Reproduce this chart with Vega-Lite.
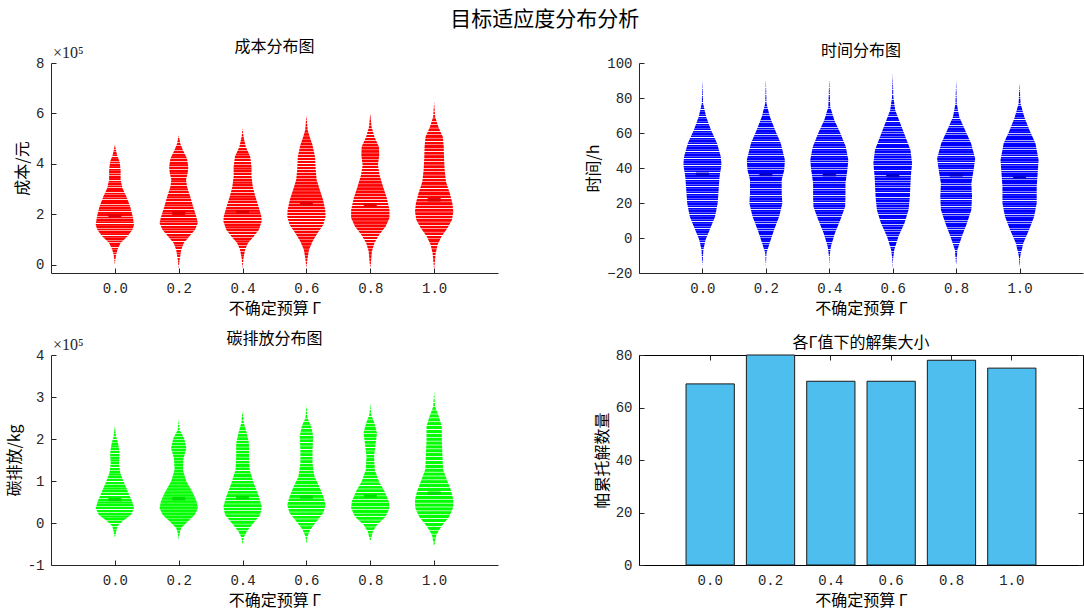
{
"$schema": "https://vega.github.io/schema/vega-lite/v6.json",
"background": "white",
"padding": {"left": 6, "top": 9, "right": 2, "bottom": 4},
"title": {"text": "目标适应度分布分析", "font": "Noto Sans CJK SC", "fontSize": 21, "fontWeight": "normal", "color": "#000000", "anchor": "middle", "offset": 9},
"config": {
  "font": "Noto Sans CJK SC",
  "view": {"stroke": null},
  "title": {"font": "Noto Sans CJK SC", "fontSize": 16, "fontWeight": "normal", "color": "#000000", "offset": -3},
  "axis": {"grid": false, "labelOverlap": false, "labelFont": "Liberation Mono", "labelFontSize": 14, "labelColor": "#262626", "titleFont": "Noto Sans CJK SC", "titleFontSize": 16, "titleFontWeight": "normal", "titleColor": "#000000", "domainColor": "#262626", "tickColor": "#262626", "tickSize": -5, "labelPadding": 12, "titlePadding": 5}
},
"datasets": {
  "cost": [
    {"g":0,"v":475000,"w":0},{"g":0,"v":435000,"w":0.007},{"g":0,"v":409000,"w":0.015},{"g":0,"v":376000,"w":0.018},{"g":0,"v":337000,"w":0.018},{"g":0,"v":304000,"w":0.024},{"g":0,"v":271000,"w":0.036},{"g":0,"v":231000,"w":0.048},{"g":0,"v":192000,"w":0.056},{"g":0,"v":159000,"w":0.060},{"g":0,"v":139000,"w":0.055},{"g":0,"v":113000,"w":0.039},{"g":0,"v":87000,"w":0.018},{"g":0,"v":60000,"w":0.008},{"g":0,"v":34000,"w":0.003},{"g":0,"v":1000,"w":0},
    {"g":0.2,"v":514000,"w":0},{"g":0.2,"v":481000,"w":0.005},{"g":0.2,"v":455000,"w":0.013},{"g":0.2,"v":422000,"w":0.026},{"g":0.2,"v":389000,"w":0.030},{"g":0.2,"v":363000,"w":0.028},{"g":0.2,"v":337000,"w":0.023},{"g":0.2,"v":310000,"w":0.026},{"g":0.2,"v":271000,"w":0.036},{"g":0.2,"v":231000,"w":0.045},{"g":0.2,"v":192000,"w":0.055},{"g":0.2,"v":166000,"w":0.060},{"g":0.2,"v":139000,"w":0.051},{"g":0.2,"v":113000,"w":0.033},{"g":0.2,"v":87000,"w":0.016},{"g":0.2,"v":60000,"w":0.008},{"g":0.2,"v":21000,"w":0.003},{"g":0.2,"v":-15000,"w":0},
    {"g":0.4,"v":541000,"w":0},{"g":0.4,"v":508000,"w":0.003},{"g":0.4,"v":468000,"w":0.010},{"g":0.4,"v":429000,"w":0.024},{"g":0.4,"v":389000,"w":0.028},{"g":0.4,"v":350000,"w":0.028},{"g":0.4,"v":310000,"w":0.032},{"g":0.4,"v":271000,"w":0.040},{"g":0.4,"v":231000,"w":0.050},{"g":0.4,"v":192000,"w":0.059},{"g":0.4,"v":172000,"w":0.060},{"g":0.4,"v":139000,"w":0.051},{"g":0.4,"v":113000,"w":0.035},{"g":0.4,"v":87000,"w":0.017},{"g":0.4,"v":60000,"w":0.008},{"g":0.4,"v":28000,"w":0.003},{"g":0.4,"v":-15000,"w":0},
    {"g":0.6,"v":593000,"w":0},{"g":0.6,"v":534000,"w":0.004},{"g":0.6,"v":508000,"w":0.010},{"g":0.6,"v":475000,"w":0.019},{"g":0.6,"v":429000,"w":0.027},{"g":0.6,"v":376000,"w":0.029},{"g":0.6,"v":337000,"w":0.032},{"g":0.6,"v":297000,"w":0.042},{"g":0.6,"v":258000,"w":0.052},{"g":0.6,"v":218000,"w":0.059},{"g":0.6,"v":192000,"w":0.060},{"g":0.6,"v":159000,"w":0.053},{"g":0.6,"v":126000,"w":0.035},{"g":0.6,"v":93000,"w":0.019},{"g":0.6,"v":60000,"w":0.008},{"g":0.6,"v":21000,"w":0.003},{"g":0.6,"v":-12000,"w":0},
    {"g":0.8,"v":600000,"w":0},{"g":0.8,"v":547000,"w":0.004},{"g":0.8,"v":508000,"w":0.013},{"g":0.8,"v":468000,"w":0.027},{"g":0.8,"v":435000,"w":0.028},{"g":0.8,"v":396000,"w":0.024},{"g":0.8,"v":356000,"w":0.029},{"g":0.8,"v":310000,"w":0.040},{"g":0.8,"v":264000,"w":0.052},{"g":0.8,"v":218000,"w":0.060},{"g":0.8,"v":186000,"w":0.060},{"g":0.8,"v":152000,"w":0.048},{"g":0.8,"v":120000,"w":0.028},{"g":0.8,"v":87000,"w":0.013},{"g":0.8,"v":54000,"w":0.005},{"g":0.8,"v":8000,"w":0.002},{"g":0.8,"v":-12000,"w":0},
    {"g":1,"v":646000,"w":0},{"g":1,"v":587000,"w":0.003},{"g":1,"v":547000,"w":0.013},{"g":1,"v":508000,"w":0.027},{"g":1,"v":468000,"w":0.030},{"g":1,"v":422000,"w":0.031},{"g":1,"v":376000,"w":0.033},{"g":1,"v":330000,"w":0.037},{"g":1,"v":284000,"w":0.049},{"g":1,"v":245000,"w":0.057},{"g":1,"v":212000,"w":0.060},{"g":1,"v":179000,"w":0.056},{"g":1,"v":146000,"w":0.042},{"g":1,"v":113000,"w":0.023},{"g":1,"v":80000,"w":0.011},{"g":1,"v":47000,"w":0.005},{"g":1,"v":-19000,"w":0}
  ],
  "costMean": [{"g":0,"m":195000},{"g":0.2,"m":205000},{"g":0.4,"m":210000},{"g":0.6,"m":242000},{"g":0.8,"m":238000},{"g":1,"m":258000}],
  "time": [
    {"g":0,"v":90.5,"w":0},{"g":0,"v":76.9,"w":0.002},{"g":0,"v":69.2,"w":0.012},{"g":0,"v":61.7,"w":0.027},{"g":0,"v":54.1,"w":0.046},{"g":0,"v":46.4,"w":0.058},{"g":0,"v":41.7,"w":0.060},{"g":0,"v":35.0,"w":0.054},{"g":0,"v":27.5,"w":0.051},{"g":0,"v":19.9,"w":0.048},{"g":0,"v":12.3,"w":0.040},{"g":0,"v":4.7,"w":0.023},{"g":0,"v":-1.0,"w":0.010},{"g":0,"v":-6.7,"w":0.003},{"g":0,"v":-16.2,"w":0},
    {"g":0.2,"v":91.1,"w":0},{"g":0.2,"v":76.9,"w":0.002},{"g":0.2,"v":69.2,"w":0.013},{"g":0.2,"v":61.7,"w":0.029},{"g":0.2,"v":54.1,"w":0.047},{"g":0.2,"v":44.6,"w":0.060},{"g":0.2,"v":38.9,"w":0.058},{"g":0.2,"v":33.3,"w":0.050},{"g":0.2,"v":25.6,"w":0.050},{"g":0.2,"v":19.9,"w":0.052},{"g":0.2,"v":12.3,"w":0.042},{"g":0.2,"v":4.7,"w":0.026},{"g":0.2,"v":-2.9,"w":0.012},{"g":0.2,"v":-8.6,"w":0.002},{"g":0.2,"v":-16.2,"w":0},
    {"g":0.4,"v":91.1,"w":0},{"g":0.4,"v":74.9,"w":0.003},{"g":0.4,"v":67.3,"w":0.016},{"g":0.4,"v":59.8,"w":0.035},{"g":0.4,"v":52.1,"w":0.052},{"g":0.4,"v":44.6,"w":0.060},{"g":0.4,"v":38.9,"w":0.057},{"g":0.4,"v":31.3,"w":0.051},{"g":0.4,"v":23.6,"w":0.051},{"g":0.4,"v":17.9,"w":0.050},{"g":0.4,"v":10.4,"w":0.035},{"g":0.4,"v":2.8,"w":0.018},{"g":0.4,"v":-4.8,"w":0.005},{"g":0.4,"v":-10.5,"w":0.001},{"g":0.4,"v":-16.2,"w":0},
    {"g":0.6,"v":94.3,"w":0},{"g":0.6,"v":80.6,"w":0.002},{"g":0.6,"v":73.0,"w":0.008},{"g":0.6,"v":65.5,"w":0.024},{"g":0.6,"v":57.8,"w":0.040},{"g":0.6,"v":50.3,"w":0.056},{"g":0.6,"v":42.7,"w":0.061},{"g":0.6,"v":35.0,"w":0.057},{"g":0.6,"v":23.6,"w":0.054},{"g":0.6,"v":16.1,"w":0.050},{"g":0.6,"v":8.5,"w":0.037},{"g":0.6,"v":0.9,"w":0.018},{"g":0.6,"v":-6.7,"w":0.005},{"g":0.6,"v":-12.4,"w":0.001},{"g":0.6,"v":-17.7,"w":0},
    {"g":0.8,"v":90.5,"w":0},{"g":0.8,"v":76.9,"w":0.002},{"g":0.8,"v":69.2,"w":0.010},{"g":0.8,"v":61.7,"w":0.028},{"g":0.8,"v":54.1,"w":0.047},{"g":0.8,"v":45.5,"w":0.060},{"g":0.8,"v":38.9,"w":0.055},{"g":0.8,"v":31.3,"w":0.048},{"g":0.8,"v":23.6,"w":0.050},{"g":0.8,"v":16.1,"w":0.048},{"g":0.8,"v":8.5,"w":0.034},{"g":0.8,"v":0.9,"w":0.018},{"g":0.8,"v":-6.7,"w":0.004},{"g":0.8,"v":-15.3,"w":0},
    {"g":1,"v":88.6,"w":0},{"g":1,"v":76.9,"w":0.003},{"g":1,"v":69.2,"w":0.015},{"g":1,"v":61.7,"w":0.031},{"g":1,"v":54.1,"w":0.050},{"g":1,"v":44.6,"w":0.060},{"g":1,"v":37.0,"w":0.057},{"g":1,"v":29.3,"w":0.054},{"g":1,"v":19.9,"w":0.054},{"g":1,"v":12.3,"w":0.046},{"g":1,"v":4.7,"w":0.030},{"g":1,"v":-2.9,"w":0.012},{"g":1,"v":-10.5,"w":0.002},{"g":1,"v":-17.2,"w":0}
  ],
  "timeMean": [{"g":0,"m":36.4},{"g":0.2,"m":36.3},{"g":0.4,"m":36.2},{"g":0.6,"m":35.6},{"g":0.8,"m":36.1},{"g":1,"m":34.7}],
  "carbon": [
    {"g":0,"v":231000,"w":0},{"g":0,"v":206000,"w":0.004},{"g":0,"v":190000,"w":0.010},{"g":0,"v":166000,"w":0.015},{"g":0,"v":142000,"w":0.013},{"g":0,"v":119000,"w":0.017},{"g":0,"v":95000,"w":0.029},{"g":0,"v":71000,"w":0.043},{"g":0,"v":51000,"w":0.054},{"g":0,"v":35000,"w":0.060},{"g":0,"v":19000,"w":0.050},{"g":0,"v":4000,"w":0.024},{"g":0,"v":-8000,"w":0.008},{"g":0,"v":-24000,"w":0.003},{"g":0,"v":-36000,"w":0},
    {"g":0.2,"v":247000,"w":0},{"g":0.2,"v":222000,"w":0.003},{"g":0.2,"v":202000,"w":0.017},{"g":0.2,"v":178000,"w":0.024},{"g":0.2,"v":154000,"w":0.015},{"g":0.2,"v":127000,"w":0.013},{"g":0.2,"v":99000,"w":0.024},{"g":0.2,"v":71000,"w":0.045},{"g":0.2,"v":51000,"w":0.056},{"g":0.2,"v":35000,"w":0.060},{"g":0.2,"v":19000,"w":0.050},{"g":0.2,"v":4000,"w":0.029},{"g":0.2,"v":-12000,"w":0.008},{"g":0.2,"v":-24000,"w":0.003},{"g":0.2,"v":-40000,"w":0},
    {"g":0.4,"v":267000,"w":0},{"g":0.4,"v":238000,"w":0.004},{"g":0.4,"v":214000,"w":0.013},{"g":0.4,"v":190000,"w":0.020},{"g":0.4,"v":159000,"w":0.020},{"g":0.4,"v":127000,"w":0.022},{"g":0.4,"v":95000,"w":0.035},{"g":0.4,"v":63000,"w":0.051},{"g":0.4,"v":39000,"w":0.060},{"g":0.4,"v":19000,"w":0.055},{"g":0.4,"v":0,"w":0.034},{"g":0.4,"v":-20000,"w":0.013},{"g":0.4,"v":-36000,"w":0.003},{"g":0.4,"v":-52000,"w":0},
    {"g":0.6,"v":281000,"w":0},{"g":0.6,"v":250000,"w":0.003},{"g":0.6,"v":230000,"w":0.015},{"g":0.6,"v":206000,"w":0.021},{"g":0.6,"v":174000,"w":0.019},{"g":0.6,"v":142000,"w":0.019},{"g":0.6,"v":111000,"w":0.025},{"g":0.6,"v":87000,"w":0.040},{"g":0.6,"v":63000,"w":0.053},{"g":0.6,"v":43000,"w":0.060},{"g":0.6,"v":24000,"w":0.053},{"g":0.6,"v":4000,"w":0.032},{"g":0.6,"v":-16000,"w":0.012},{"g":0.6,"v":-32000,"w":0.003},{"g":0.6,"v":-50000,"w":0},
    {"g":0.8,"v":285000,"w":0},{"g":0.8,"v":257000,"w":0.003},{"g":0.8,"v":238000,"w":0.013},{"g":0.8,"v":214000,"w":0.021},{"g":0.8,"v":190000,"w":0.017},{"g":0.8,"v":159000,"w":0.012},{"g":0.8,"v":127000,"w":0.014},{"g":0.8,"v":99000,"w":0.027},{"g":0.8,"v":75000,"w":0.045},{"g":0.8,"v":51000,"w":0.058},{"g":0.8,"v":35000,"w":0.060},{"g":0.8,"v":15000,"w":0.048},{"g":0.8,"v":-4000,"w":0.021},{"g":0.8,"v":-20000,"w":0.008},{"g":0.8,"v":-44000,"w":0},
    {"g":1,"v":313000,"w":0},{"g":1,"v":277000,"w":0.003},{"g":1,"v":253000,"w":0.015},{"g":1,"v":230000,"w":0.024},{"g":1,"v":198000,"w":0.024},{"g":1,"v":159000,"w":0.026},{"g":1,"v":127000,"w":0.028},{"g":1,"v":99000,"w":0.042},{"g":1,"v":75000,"w":0.054},{"g":1,"v":55000,"w":0.060},{"g":1,"v":35000,"w":0.059},{"g":1,"v":15000,"w":0.047},{"g":1,"v":-8000,"w":0.023},{"g":1,"v":-28000,"w":0.007},{"g":1,"v":-56000,"w":0}
  ],
  "carbonMean": [{"g":0,"m":56000},{"g":0.2,"m":58000},{"g":0.4,"m":60000},{"g":0.6,"m":62000},{"g":0.8,"m":64000},{"g":1,"m":71000}],
  "pareto": [{"g":"0.0","n":69},{"g":"0.2","n":80},{"g":"0.4","n":70},{"g":"0.6","n":70},{"g":"0.8","n":78},{"g":"1.0","n":75}]
},
"bounds": "flush",
"columns": 2,
"spacing": {"row": 82, "column": 141},
"concat": [
  {
    "width": 447, "height": 210,
    "title": {"text": "成本分布图", "offset": -10},
    "layer": [
      {
        "data": {"name": "cost"},
        "transform": [{"calculate": "datum.g - datum.w", "as": "xl"}, {"calculate": "datum.g + datum.w", "as": "xr"}],
        "mark": {"type": "area", "orient": "horizontal", "strokeWidth": 0, "color": {"gradient": "linear", "x1": 0, "y1": 0, "x2": 0, "y2": 1, "stops": [
{"offset":0,"color":"red"},{"offset":0.012,"color":"red"},{"offset":0.016,"color":"white"},
{"offset":0.02,"color":"red"},{"offset":0.032,"color":"red"},{"offset":0.036,"color":"white"},
{"offset":0.04,"color":"red"},{"offset":0.052,"color":"red"},{"offset":0.056,"color":"white"},
{"offset":0.06,"color":"red"},{"offset":0.072,"color":"red"},{"offset":0.076,"color":"white"},
{"offset":0.08,"color":"red"},{"offset":0.092,"color":"red"},{"offset":0.096,"color":"white"},
{"offset":0.1,"color":"red"},{"offset":0.112,"color":"red"},{"offset":0.116,"color":"white"},
{"offset":0.12,"color":"red"},{"offset":0.132,"color":"red"},{"offset":0.136,"color":"white"},
{"offset":0.14,"color":"red"},{"offset":0.152,"color":"red"},{"offset":0.156,"color":"white"},
{"offset":0.16,"color":"red"},{"offset":0.172,"color":"red"},{"offset":0.176,"color":"white"},
{"offset":0.18,"color":"red"},{"offset":0.192,"color":"red"},{"offset":0.196,"color":"white"},
{"offset":0.2,"color":"red"},{"offset":0.212,"color":"red"},{"offset":0.216,"color":"white"},
{"offset":0.22,"color":"red"},{"offset":0.232,"color":"red"},{"offset":0.236,"color":"white"},
{"offset":0.24,"color":"red"},{"offset":0.252,"color":"red"},{"offset":0.256,"color":"white"},
{"offset":0.26,"color":"red"},{"offset":0.272,"color":"red"},{"offset":0.276,"color":"white"},
{"offset":0.28,"color":"red"},{"offset":0.292,"color":"red"},{"offset":0.296,"color":"white"},
{"offset":0.3,"color":"red"},{"offset":0.312,"color":"red"},{"offset":0.316,"color":"white"},
{"offset":0.32,"color":"red"},{"offset":0.332,"color":"red"},{"offset":0.336,"color":"white"},
{"offset":0.34,"color":"red"},{"offset":0.352,"color":"red"},{"offset":0.356,"color":"white"},
{"offset":0.36,"color":"red"},{"offset":0.372,"color":"red"},{"offset":0.376,"color":"white"},
{"offset":0.38,"color":"red"},{"offset":0.392,"color":"red"},{"offset":0.396,"color":"white"},
{"offset":0.4,"color":"red"},{"offset":0.412,"color":"red"},{"offset":0.416,"color":"white"},
{"offset":0.42,"color":"red"},{"offset":0.432,"color":"red"},{"offset":0.436,"color":"white"},
{"offset":0.44,"color":"red"},{"offset":0.452,"color":"red"},{"offset":0.456,"color":"white"},
{"offset":0.46,"color":"red"},{"offset":0.472,"color":"red"},{"offset":0.476,"color":"white"},
{"offset":0.48,"color":"red"},{"offset":0.492,"color":"red"},{"offset":0.496,"color":"white"},
{"offset":0.5,"color":"red"},{"offset":0.512,"color":"red"},{"offset":0.516,"color":"white"},
{"offset":0.52,"color":"red"},{"offset":0.532,"color":"red"},{"offset":0.536,"color":"white"},
{"offset":0.54,"color":"red"},{"offset":0.552,"color":"red"},{"offset":0.556,"color":"white"},
{"offset":0.56,"color":"red"},{"offset":0.572,"color":"red"},{"offset":0.576,"color":"white"},
{"offset":0.58,"color":"red"},{"offset":0.592,"color":"red"},{"offset":0.596,"color":"white"},
{"offset":0.6,"color":"red"},{"offset":0.612,"color":"red"},{"offset":0.616,"color":"white"},
{"offset":0.62,"color":"red"},{"offset":0.632,"color":"red"},{"offset":0.636,"color":"white"},
{"offset":0.64,"color":"red"},{"offset":0.652,"color":"red"},{"offset":0.656,"color":"white"},
{"offset":0.66,"color":"red"},{"offset":0.672,"color":"red"},{"offset":0.676,"color":"white"},
{"offset":0.68,"color":"red"},{"offset":0.692,"color":"red"},{"offset":0.696,"color":"white"},
{"offset":0.7,"color":"red"},{"offset":0.712,"color":"red"},{"offset":0.716,"color":"white"},
{"offset":0.72,"color":"red"},{"offset":0.732,"color":"red"},{"offset":0.736,"color":"white"},
{"offset":0.74,"color":"red"},{"offset":0.752,"color":"red"},{"offset":0.756,"color":"white"},
{"offset":0.76,"color":"red"},{"offset":0.772,"color":"red"},{"offset":0.776,"color":"white"},
{"offset":0.78,"color":"red"},{"offset":0.792,"color":"red"},{"offset":0.796,"color":"white"},
{"offset":0.8,"color":"red"},{"offset":0.812,"color":"red"},{"offset":0.816,"color":"white"},
{"offset":0.82,"color":"red"},{"offset":0.832,"color":"red"},{"offset":0.836,"color":"white"},
{"offset":0.84,"color":"red"},{"offset":0.852,"color":"red"},{"offset":0.856,"color":"white"},
{"offset":0.86,"color":"red"},{"offset":0.872,"color":"red"},{"offset":0.876,"color":"white"},
{"offset":0.88,"color":"red"},{"offset":0.892,"color":"red"},{"offset":0.896,"color":"white"},
{"offset":0.9,"color":"red"},{"offset":0.912,"color":"red"},{"offset":0.916,"color":"white"},
{"offset":0.92,"color":"red"},{"offset":0.932,"color":"red"},{"offset":0.936,"color":"white"},
{"offset":0.94,"color":"red"},{"offset":0.952,"color":"red"},{"offset":0.956,"color":"white"},
{"offset":0.96,"color":"red"},{"offset":0.972,"color":"red"},{"offset":0.976,"color":"white"},
{"offset":0.98,"color":"red"},{"offset":0.992,"color":"red"},{"offset":0.996,"color":"white"}
        ]}},
        "encoding": {
          "y": {"field": "v", "type": "quantitative", "scale": {"domain": [-32000, 800000], "nice": false, "zero": false}, "axis": {"title": "成本/元", "values": [0, 200000, 400000, 600000, 800000], "labelExpr": "datum.value / 100000"}},
          "x": {"field": "xl", "type": "quantitative", "scale": {"domain": [-0.2, 1.2], "nice": false, "zero": false}, "axis": {"title": "不确定预算 Γ", "values": [0, 0.2, 0.4, 0.6, 0.8, 1], "format": ".1f", "labelPadding": 13}},
          "x2": {"field": "xr"},
          "detail": {"field": "g"}
        }
      },
      {"data": {"name": "costMean"}, "mark": {"type": "tick", "orient": "horizontal", "color": "#e00000", "thickness": 3.5, "size": 13, "opacity": 1}, "encoding": {"x": {"field": "g", "type": "quantitative"}, "y": {"field": "m", "type": "quantitative"}}},
      {"data": {"values": [{}]}, "mark": {"type": "text", "align": "left", "baseline": "alphabetic", "dx": 2, "dy": -5, "font": "Liberation Serif", "fontSize": 16, "color": "#262626"}, "encoding": {"x": {"datum": -0.2, "type": "quantitative"}, "y": {"datum": 800000, "type": "quantitative"}, "text": {"value": "×10⁵"}}}
    ]
  },
  {
    "width": 444, "height": 210,
    "title": "时间分布图",
    "layer": [
      {
        "data": {"name": "time"},
        "transform": [{"calculate": "datum.g - datum.w", "as": "xl"}, {"calculate": "datum.g + datum.w", "as": "xr"}],
        "mark": {"type": "area", "orient": "horizontal", "strokeWidth": 0, "color": {"gradient": "linear", "x1": 0, "y1": 0, "x2": 0, "y2": 1, "stops": [
{"offset":0,"color":"blue"},{"offset":0.0075,"color":"blue"},{"offset":0.01,"color":"white"},
{"offset":0.0125,"color":"blue"},{"offset":0.02,"color":"blue"},{"offset":0.0225,"color":"white"},
{"offset":0.025,"color":"blue"},{"offset":0.0325,"color":"blue"},{"offset":0.035,"color":"white"},
{"offset":0.0375,"color":"blue"},{"offset":0.045,"color":"blue"},{"offset":0.0475,"color":"white"},
{"offset":0.05,"color":"blue"},{"offset":0.0575,"color":"blue"},{"offset":0.06,"color":"white"},
{"offset":0.0625,"color":"blue"},{"offset":0.07,"color":"blue"},{"offset":0.0725,"color":"white"},
{"offset":0.075,"color":"blue"},{"offset":0.0825,"color":"blue"},{"offset":0.085,"color":"white"},
{"offset":0.0875,"color":"blue"},{"offset":0.095,"color":"blue"},{"offset":0.0975,"color":"white"},
{"offset":0.1,"color":"blue"},{"offset":0.1075,"color":"blue"},{"offset":0.11,"color":"white"},
{"offset":0.1125,"color":"blue"},{"offset":0.12,"color":"blue"},{"offset":0.1225,"color":"white"},
{"offset":0.125,"color":"blue"},{"offset":0.1325,"color":"blue"},{"offset":0.135,"color":"white"},
{"offset":0.1375,"color":"blue"},{"offset":0.145,"color":"blue"},{"offset":0.1475,"color":"white"},
{"offset":0.15,"color":"blue"},{"offset":0.1575,"color":"blue"},{"offset":0.16,"color":"white"},
{"offset":0.1625,"color":"blue"},{"offset":0.17,"color":"blue"},{"offset":0.1725,"color":"white"},
{"offset":0.175,"color":"blue"},{"offset":0.1825,"color":"blue"},{"offset":0.185,"color":"white"},
{"offset":0.1875,"color":"blue"},{"offset":0.195,"color":"blue"},{"offset":0.1975,"color":"white"},
{"offset":0.2,"color":"blue"},{"offset":0.2075,"color":"blue"},{"offset":0.21,"color":"white"},
{"offset":0.2125,"color":"blue"},{"offset":0.22,"color":"blue"},{"offset":0.2225,"color":"white"},
{"offset":0.225,"color":"blue"},{"offset":0.2325,"color":"blue"},{"offset":0.235,"color":"white"},
{"offset":0.2375,"color":"blue"},{"offset":0.245,"color":"blue"},{"offset":0.2475,"color":"white"},
{"offset":0.25,"color":"blue"},{"offset":0.2575,"color":"blue"},{"offset":0.26,"color":"white"},
{"offset":0.2625,"color":"blue"},{"offset":0.27,"color":"blue"},{"offset":0.2725,"color":"white"},
{"offset":0.275,"color":"blue"},{"offset":0.2825,"color":"blue"},{"offset":0.285,"color":"white"},
{"offset":0.2875,"color":"blue"},{"offset":0.295,"color":"blue"},{"offset":0.2975,"color":"white"},
{"offset":0.3,"color":"blue"},{"offset":0.3075,"color":"blue"},{"offset":0.31,"color":"white"},
{"offset":0.3125,"color":"blue"},{"offset":0.32,"color":"blue"},{"offset":0.3225,"color":"white"},
{"offset":0.325,"color":"blue"},{"offset":0.3325,"color":"blue"},{"offset":0.335,"color":"white"},
{"offset":0.3375,"color":"blue"},{"offset":0.345,"color":"blue"},{"offset":0.3475,"color":"white"},
{"offset":0.35,"color":"blue"},{"offset":0.3575,"color":"blue"},{"offset":0.36,"color":"white"},
{"offset":0.3625,"color":"blue"},{"offset":0.37,"color":"blue"},{"offset":0.3725,"color":"white"},
{"offset":0.375,"color":"blue"},{"offset":0.3825,"color":"blue"},{"offset":0.385,"color":"white"},
{"offset":0.3875,"color":"blue"},{"offset":0.395,"color":"blue"},{"offset":0.3975,"color":"white"},
{"offset":0.4,"color":"blue"},{"offset":0.4075,"color":"blue"},{"offset":0.41,"color":"white"},
{"offset":0.4125,"color":"blue"},{"offset":0.42,"color":"blue"},{"offset":0.4225,"color":"white"},
{"offset":0.425,"color":"blue"},{"offset":0.4325,"color":"blue"},{"offset":0.435,"color":"white"},
{"offset":0.4375,"color":"blue"},{"offset":0.445,"color":"blue"},{"offset":0.4475,"color":"white"},
{"offset":0.45,"color":"blue"},{"offset":0.4575,"color":"blue"},{"offset":0.46,"color":"white"},
{"offset":0.4625,"color":"blue"},{"offset":0.47,"color":"blue"},{"offset":0.4725,"color":"white"},
{"offset":0.475,"color":"blue"},{"offset":0.4825,"color":"blue"},{"offset":0.485,"color":"white"},
{"offset":0.4875,"color":"blue"},{"offset":0.495,"color":"blue"},{"offset":0.4975,"color":"white"},
{"offset":0.5,"color":"blue"},{"offset":0.5075,"color":"blue"},{"offset":0.51,"color":"white"},
{"offset":0.5125,"color":"blue"},{"offset":0.52,"color":"blue"},{"offset":0.5225,"color":"white"},
{"offset":0.525,"color":"blue"},{"offset":0.5325,"color":"blue"},{"offset":0.535,"color":"white"},
{"offset":0.5375,"color":"blue"},{"offset":0.545,"color":"blue"},{"offset":0.5475,"color":"white"},
{"offset":0.55,"color":"blue"},{"offset":0.5575,"color":"blue"},{"offset":0.56,"color":"white"},
{"offset":0.5625,"color":"blue"},{"offset":0.57,"color":"blue"},{"offset":0.5725,"color":"white"},
{"offset":0.575,"color":"blue"},{"offset":0.5825,"color":"blue"},{"offset":0.585,"color":"white"},
{"offset":0.5875,"color":"blue"},{"offset":0.595,"color":"blue"},{"offset":0.5975,"color":"white"},
{"offset":0.6,"color":"blue"},{"offset":0.6075,"color":"blue"},{"offset":0.61,"color":"white"},
{"offset":0.6125,"color":"blue"},{"offset":0.62,"color":"blue"},{"offset":0.6225,"color":"white"},
{"offset":0.625,"color":"blue"},{"offset":0.6325,"color":"blue"},{"offset":0.635,"color":"white"},
{"offset":0.6375,"color":"blue"},{"offset":0.645,"color":"blue"},{"offset":0.6475,"color":"white"},
{"offset":0.65,"color":"blue"},{"offset":0.6575,"color":"blue"},{"offset":0.66,"color":"white"},
{"offset":0.6625,"color":"blue"},{"offset":0.67,"color":"blue"},{"offset":0.6725,"color":"white"},
{"offset":0.675,"color":"blue"},{"offset":0.6825,"color":"blue"},{"offset":0.685,"color":"white"},
{"offset":0.6875,"color":"blue"},{"offset":0.695,"color":"blue"},{"offset":0.6975,"color":"white"},
{"offset":0.7,"color":"blue"},{"offset":0.7075,"color":"blue"},{"offset":0.71,"color":"white"},
{"offset":0.7125,"color":"blue"},{"offset":0.72,"color":"blue"},{"offset":0.7225,"color":"white"},
{"offset":0.725,"color":"blue"},{"offset":0.7325,"color":"blue"},{"offset":0.735,"color":"white"},
{"offset":0.7375,"color":"blue"},{"offset":0.745,"color":"blue"},{"offset":0.7475,"color":"white"},
{"offset":0.75,"color":"blue"},{"offset":0.7575,"color":"blue"},{"offset":0.76,"color":"white"},
{"offset":0.7625,"color":"blue"},{"offset":0.77,"color":"blue"},{"offset":0.7725,"color":"white"},
{"offset":0.775,"color":"blue"},{"offset":0.7825,"color":"blue"},{"offset":0.785,"color":"white"},
{"offset":0.7875,"color":"blue"},{"offset":0.795,"color":"blue"},{"offset":0.7975,"color":"white"},
{"offset":0.8,"color":"blue"},{"offset":0.8075,"color":"blue"},{"offset":0.81,"color":"white"},
{"offset":0.8125,"color":"blue"},{"offset":0.82,"color":"blue"},{"offset":0.8225,"color":"white"},
{"offset":0.825,"color":"blue"},{"offset":0.8325,"color":"blue"},{"offset":0.835,"color":"white"},
{"offset":0.8375,"color":"blue"},{"offset":0.845,"color":"blue"},{"offset":0.8475,"color":"white"},
{"offset":0.85,"color":"blue"},{"offset":0.8575,"color":"blue"},{"offset":0.86,"color":"white"},
{"offset":0.8625,"color":"blue"},{"offset":0.87,"color":"blue"},{"offset":0.8725,"color":"white"},
{"offset":0.875,"color":"blue"},{"offset":0.8825,"color":"blue"},{"offset":0.885,"color":"white"},
{"offset":0.8875,"color":"blue"},{"offset":0.895,"color":"blue"},{"offset":0.8975,"color":"white"},
{"offset":0.9,"color":"blue"},{"offset":0.9075,"color":"blue"},{"offset":0.91,"color":"white"},
{"offset":0.9125,"color":"blue"},{"offset":0.92,"color":"blue"},{"offset":0.9225,"color":"white"},
{"offset":0.925,"color":"blue"},{"offset":0.9325,"color":"blue"},{"offset":0.935,"color":"white"},
{"offset":0.9375,"color":"blue"},{"offset":0.945,"color":"blue"},{"offset":0.9475,"color":"white"},
{"offset":0.95,"color":"blue"},{"offset":0.9575,"color":"blue"},{"offset":0.96,"color":"white"},
{"offset":0.9625,"color":"blue"},{"offset":0.97,"color":"blue"},{"offset":0.9725,"color":"white"},
{"offset":0.975,"color":"blue"},{"offset":0.9825,"color":"blue"},{"offset":0.985,"color":"white"},
{"offset":0.9875,"color":"blue"},{"offset":0.995,"color":"blue"},{"offset":0.9975,"color":"white"}
        ]}},
        "encoding": {
          "y": {"field": "v", "type": "quantitative", "scale": {"domain": [-20, 100], "nice": false, "zero": false}, "axis": {"title": "时间/h", "values": [-20, 0, 20, 40, 60, 80, 100], "labelOverlap": false, "labelBound": false, "labelFlush": false}},
          "x": {"field": "xl", "type": "quantitative", "scale": {"domain": [-0.2, 1.2], "nice": false, "zero": false}, "axis": {"title": "不确定预算 Γ", "values": [0, 0.2, 0.4, 0.6, 0.8, 1], "format": ".1f", "labelPadding": 13}},
          "x2": {"field": "xr"},
          "detail": {"field": "g"}
        }
      },
      {"data": {"name": "timeMean"}, "mark": {"type": "tick", "orient": "horizontal", "color": "#0000cc", "thickness": 3.5, "size": 13, "opacity": 1}, "encoding": {"x": {"field": "g", "type": "quantitative"}, "y": {"field": "m", "type": "quantitative", "axis": {"title": "时间/h", "values": [-20, 0, 20, 40, 60, 80, 100], "labelOverlap": false, "labelBound": false, "labelFlush": false}}}}
    ]
  },
  {
    "width": 447, "height": 210,
    "title": {"text": "碳排放分布图", "offset": -10},
    "layer": [
      {
        "data": {"name": "carbon"},
        "transform": [{"calculate": "datum.g - datum.w", "as": "xl"}, {"calculate": "datum.g + datum.w", "as": "xr"}],
        "mark": {"type": "area", "orient": "horizontal", "strokeWidth": 0, "color": {"gradient": "linear", "x1": 0, "y1": 0, "x2": 0, "y2": 1, "stops": [
{"offset":0,"color":"lime"},{"offset":0.015,"color":"lime"},{"offset":0.02,"color":"white"},
{"offset":0.025,"color":"lime"},{"offset":0.04,"color":"lime"},{"offset":0.045,"color":"white"},
{"offset":0.05,"color":"lime"},{"offset":0.065,"color":"lime"},{"offset":0.07,"color":"white"},
{"offset":0.075,"color":"lime"},{"offset":0.09,"color":"lime"},{"offset":0.095,"color":"white"},
{"offset":0.1,"color":"lime"},{"offset":0.115,"color":"lime"},{"offset":0.12,"color":"white"},
{"offset":0.125,"color":"lime"},{"offset":0.14,"color":"lime"},{"offset":0.145,"color":"white"},
{"offset":0.15,"color":"lime"},{"offset":0.165,"color":"lime"},{"offset":0.17,"color":"white"},
{"offset":0.175,"color":"lime"},{"offset":0.19,"color":"lime"},{"offset":0.195,"color":"white"},
{"offset":0.2,"color":"lime"},{"offset":0.215,"color":"lime"},{"offset":0.22,"color":"white"},
{"offset":0.225,"color":"lime"},{"offset":0.24,"color":"lime"},{"offset":0.245,"color":"white"},
{"offset":0.25,"color":"lime"},{"offset":0.265,"color":"lime"},{"offset":0.27,"color":"white"},
{"offset":0.275,"color":"lime"},{"offset":0.29,"color":"lime"},{"offset":0.295,"color":"white"},
{"offset":0.3,"color":"lime"},{"offset":0.315,"color":"lime"},{"offset":0.32,"color":"white"},
{"offset":0.325,"color":"lime"},{"offset":0.34,"color":"lime"},{"offset":0.345,"color":"white"},
{"offset":0.35,"color":"lime"},{"offset":0.365,"color":"lime"},{"offset":0.37,"color":"white"},
{"offset":0.375,"color":"lime"},{"offset":0.39,"color":"lime"},{"offset":0.395,"color":"white"},
{"offset":0.4,"color":"lime"},{"offset":0.415,"color":"lime"},{"offset":0.42,"color":"white"},
{"offset":0.425,"color":"lime"},{"offset":0.44,"color":"lime"},{"offset":0.445,"color":"white"},
{"offset":0.45,"color":"lime"},{"offset":0.465,"color":"lime"},{"offset":0.47,"color":"white"},
{"offset":0.475,"color":"lime"},{"offset":0.49,"color":"lime"},{"offset":0.495,"color":"white"},
{"offset":0.5,"color":"lime"},{"offset":0.515,"color":"lime"},{"offset":0.52,"color":"white"},
{"offset":0.525,"color":"lime"},{"offset":0.54,"color":"lime"},{"offset":0.545,"color":"white"},
{"offset":0.55,"color":"lime"},{"offset":0.565,"color":"lime"},{"offset":0.57,"color":"white"},
{"offset":0.575,"color":"lime"},{"offset":0.59,"color":"lime"},{"offset":0.595,"color":"white"},
{"offset":0.6,"color":"lime"},{"offset":0.615,"color":"lime"},{"offset":0.62,"color":"white"},
{"offset":0.625,"color":"lime"},{"offset":0.64,"color":"lime"},{"offset":0.645,"color":"white"},
{"offset":0.65,"color":"lime"},{"offset":0.665,"color":"lime"},{"offset":0.67,"color":"white"},
{"offset":0.675,"color":"lime"},{"offset":0.69,"color":"lime"},{"offset":0.695,"color":"white"},
{"offset":0.7,"color":"lime"},{"offset":0.715,"color":"lime"},{"offset":0.72,"color":"white"},
{"offset":0.725,"color":"lime"},{"offset":0.74,"color":"lime"},{"offset":0.745,"color":"white"},
{"offset":0.75,"color":"lime"},{"offset":0.765,"color":"lime"},{"offset":0.77,"color":"white"},
{"offset":0.775,"color":"lime"},{"offset":0.79,"color":"lime"},{"offset":0.795,"color":"white"},
{"offset":0.8,"color":"lime"},{"offset":0.815,"color":"lime"},{"offset":0.82,"color":"white"},
{"offset":0.825,"color":"lime"},{"offset":0.84,"color":"lime"},{"offset":0.845,"color":"white"},
{"offset":0.85,"color":"lime"},{"offset":0.865,"color":"lime"},{"offset":0.87,"color":"white"},
{"offset":0.875,"color":"lime"},{"offset":0.89,"color":"lime"},{"offset":0.895,"color":"white"},
{"offset":0.9,"color":"lime"},{"offset":0.915,"color":"lime"},{"offset":0.92,"color":"white"},
{"offset":0.925,"color":"lime"},{"offset":0.94,"color":"lime"},{"offset":0.945,"color":"white"},
{"offset":0.95,"color":"lime"},{"offset":0.965,"color":"lime"},{"offset":0.97,"color":"white"},
{"offset":0.975,"color":"lime"},{"offset":0.99,"color":"lime"},{"offset":0.995,"color":"white"}
        ]}},
        "encoding": {
          "y": {"field": "v", "type": "quantitative", "scale": {"domain": [-100000, 400000], "nice": false, "zero": false}, "axis": {"title": "碳排放/kg", "values": [-100000, 0, 100000, 200000, 300000, 400000], "labelExpr": "datum.value / 100000"}},
          "x": {"field": "xl", "type": "quantitative", "scale": {"domain": [-0.2, 1.2], "nice": false, "zero": false}, "axis": {"title": "不确定预算 Γ", "values": [0, 0.2, 0.4, 0.6, 0.8, 1], "format": ".1f", "labelPadding": 13}},
          "x2": {"field": "xr"},
          "detail": {"field": "g"}
        }
      },
      {"data": {"name": "carbonMean"}, "mark": {"type": "tick", "orient": "horizontal", "color": "#00e000", "thickness": 3.5, "size": 13, "opacity": 1}, "encoding": {"x": {"field": "g", "type": "quantitative"}, "y": {"field": "m", "type": "quantitative"}}},
      {"data": {"values": [{}]}, "mark": {"type": "text", "align": "left", "baseline": "alphabetic", "dx": 2, "dy": -5, "font": "Liberation Serif", "fontSize": 16, "color": "#262626"}, "encoding": {"x": {"datum": -0.2, "type": "quantitative"}, "y": {"datum": 400000, "type": "quantitative"}, "text": {"value": "×10⁵"}}}
    ]
  },
  {
    "width": 444, "height": 210,
    "title": "各Γ值下的解集大小",
    "data": {"name": "pareto"},
    "resolve": {"axis": {"x": "independent", "y": "independent"}},
    "layer": [
      {
        "mark": {"type": "bar", "color": "#4DBEEE", "stroke": "#1a1a1a", "strokeWidth": 1},
        "encoding": {
          "x": {"field": "g", "type": "ordinal", "sort": null, "scale": {"paddingInner": 0.2, "paddingOuter": 0.78}, "axis": {"title": "不确定预算 Γ", "labelAngle": 0, "bandPosition": 0.5, "labelPadding": 13, "domainColor": "#000000"}},
          "y": {"field": "n", "type": "quantitative", "scale": {"domain": [0, 80], "nice": false}, "axis": {"title": "帕累托解数量", "values": [0, 20, 40, 60, 80], "domainColor": "#000000"}}
        }
      },
      {
        "mark": {"type": "bar", "opacity": 0},
        "encoding": {
          "x": {"field": "g", "type": "ordinal", "sort": null, "axis": {"orient": "top", "labels": false, "title": null, "bandPosition": 0.5, "domainColor": "#000000"}},
          "y": {"field": "n", "type": "quantitative", "axis": {"orient": "right", "labels": false, "title": null, "values": [0, 20, 40, 60, 80], "domainColor": "#000000"}}
        }
      }
    ]
  }
]
}
